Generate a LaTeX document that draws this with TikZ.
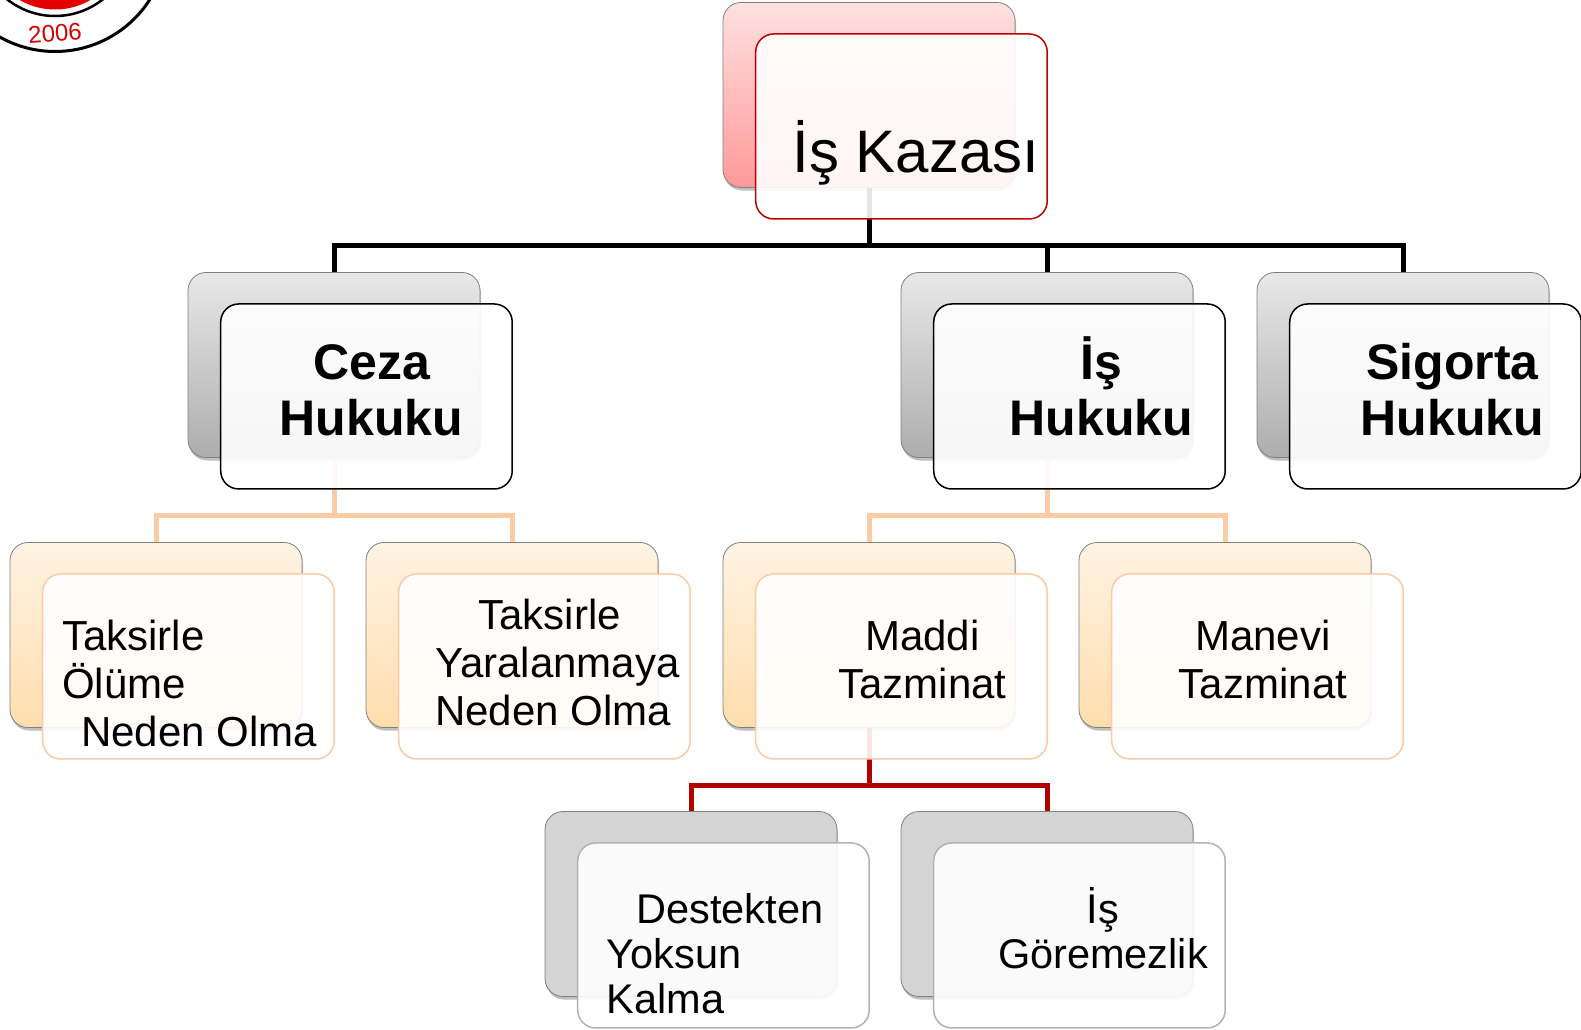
\documentclass[tikz,border=0pt]{standalone}
\usepackage{fontspec}
\setmainfont{Liberation Sans}
\usetikzlibrary{shapes,arrows,positioning,calc,shadows}
\definecolor{peach}{HTML}{FBCBA5}
\definecolor{peachtop}{HTML}{FFF3E3}
\definecolor{peachlow}{HTML}{FFDDAE}
\definecolor{darkred}{HTML}{B00000}
\definecolor{boxred}{HTML}{C00000}
\tikzset{
backbox/.style = {draw=black!50, line width=0.8pt, rectangle, rounded corners=18pt, minimum width=292pt, minimum height=185pt, inner sep=0pt,
  drop shadow={shadow xshift=1pt,shadow yshift=-3pt,opacity=.25,fill=black}},
backred/.style = {backbox, top color=red!12, bottom color=red!40},
backgray/.style = {backbox, top color=black!9, bottom color=black!32},
backpeach/.style = {backbox, top color=peachtop, bottom color=peachlow},
backplain/.style = {backbox, fill=black!17},
frontbox/.style = {draw, fill=white, fill opacity=.9, line width=1.5pt, rectangle, rounded corners=18pt, minimum width=291.5pt, minimum height=185pt, inner sep=0pt, node distance=44.5pt, xshift=1pt},
bigtxt/.style = {inner sep=0pt, align=center, font=\bfseries\fontsize{50}{56}\selectfont},
midtxt/.style = {inner sep=0pt, align=left, font=\fontsize{42}{48}\selectfont},
lowtxt/.style = {inner sep=0pt, align=left, font=\fontsize{41.5}{45}\selectfont},
ring/.style = {draw, circle, fill=white, inner sep=0pt},
bus/.style = {line width=5pt}
}
\begin{document}
\begin{tikzpicture}[x=1pt,y=-1pt]
	\useasboundingbox (0,0) rectangle (1581,1029);
	\clip (0,0) rectangle (1581,1029);
	% logo corner
	\node[ring, line width=3pt, minimum size=225pt] (logoa) at (55,-61) {};
	\node[ring, line width=2.5pt, minimum size=154pt] (logob) at (55,-61) {};
	\node[circle, fill=red!90!black, inner sep=0pt, minimum size=141pt] (logoc) at (55,-61) {};
	\node[inner sep=0pt, text=red!85!black, rotate=4, font=\fontsize{24}{24}\selectfont] (year) at (55,33) {2006};
	% bus lines
	\coordinate (bus1) at (869,245);
	\coordinate (bus2) at (334,515);
	\coordinate (bus3) at (1047,515);
	\coordinate (bus4) at (869,785);
	% back boxes
	\node[backred] (rootb) at (869,95) {};
	\node[backgray] (cezab) at (334,365) {};
	\node[backgray, right of=cezab, node distance=713pt] (isb) {};
	\node[backgray, right of=isb, node distance=356pt] (sigb) {};
	\node[backpeach] (tak1b) at (156,635) {};
	\node[backpeach, right of=tak1b, node distance=356pt] (tak2b) {};
	\node[backpeach, right of=tak2b, node distance=357pt] (mad1b) {};
	\node[backpeach, right of=mad1b, node distance=356pt] (man1b) {};
	\node[backplain] (desb) at (691,904) {};
	\node[backplain, right of=desb, node distance=356pt] (gorb) {};
	% connectors, under the boxes
	\draw[bus] (rootb.south) -- (bus1);
	\draw[bus] (cezab.north) |- (bus1) -| (sigb.north);
	\draw[bus] (isb.north) |- (bus1);
	\draw[bus,peach] (cezab.south) -- (bus2);
	\draw[bus,peach] (tak1b.north) |- (bus2) -| (tak2b.north);
	\draw[bus,peach] (isb.south) -- (bus3);
	\draw[bus,peach] (mad1b.north) |- (bus3) -| (man1b.north);
	\draw[bus,darkred] (mad1b.south) -- (bus4);
	\draw[bus,darkred] (desb.north) |- (bus4) -| (gorb.north);
	% front boxes
	\node[frontbox, draw=boxred, below right of=rootb] (root) {};
	\node[frontbox, draw=black, below right of=cezab] (ceza) {};
	\node[frontbox, draw=black, below right of=isb] (ishuk) {};
	\node[frontbox, draw=black, below right of=sigb] (sig) {};
	\node[frontbox, draw=peach, below right of=tak1b] (tak1) {};
	\node[frontbox, draw=peach, below right of=tak2b] (tak2) {};
	\node[frontbox, draw=peach, below right of=mad1b] (mad1) {};
	\node[frontbox, draw=peach, below right of=man1b] (man1) {};
	\node[frontbox, draw=black!30, below right of=desb] (des) {};
	\node[frontbox, draw=black!30, below right of=gorb] (gor) {};
	% texts
	\node[inner sep=0pt, font=\fontsize{60}{60}\selectfont] (roottxt) at ($(root.center)+(14.5,26)$) {İş Kazası};
	\node[bigtxt] (cezatxt) at ($(ceza.center)+(5,-6.5)$) {Ceza\\Hukuku};
	\node[bigtxt] (ishuktxt) at ($(ishuk.center)+(22,-10)$) {İş\\Hukuku};
	\node[bigtxt] (sigtxt) at ($(sig.center)+(17,-7)$) {Sigorta\\Hukuku};
	\node[midtxt] (tak1txt) at ($(tak1.center)+(1,17)$) {Taksirle\\Ölüme\\\hspace*{19pt}Neden Olma};
	\node[midtxt] (tak2txt) at ($(tak2.center)+(13,-4)$) {\hspace*{43pt}Taksirle\\Yaralanmaya\\Neden Olma};
	\node[midtxt, align=center] (mad1txt) at ($(mad1.center)+(21,-7)$) {Maddi\\Tazminat};
	\node[midtxt, align=center] (man1txt) at ($(man1.center)+(5.5,-7)$) {Manevi\\Tazminat};
	\node[lowtxt] (destxt) at ($(des.center)+(-8.5,18)$) {\hspace*{30pt}Destekten\\Yoksun\\Kalma};
	\node[lowtxt, align=center] (gortxt) at ($(gor.center)+(23.5,-7)$) {İş\\Göremezlik};
\end{tikzpicture}
\end{document}
